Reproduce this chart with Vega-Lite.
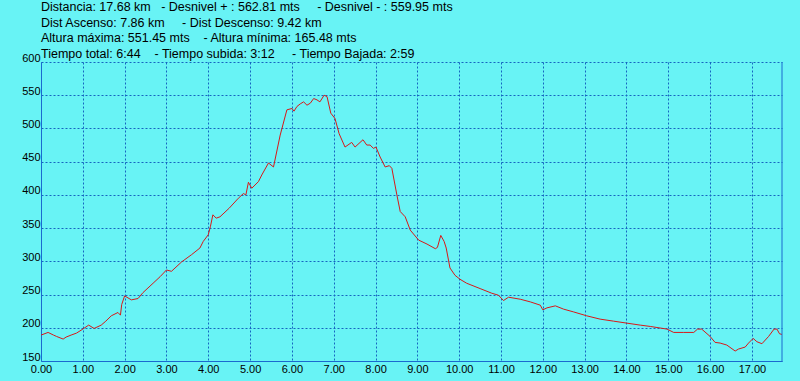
{
  "$schema": "https://vega.github.io/schema/vega-lite/v6.json",
  "width": 741,
  "height": 299,
  "autosize": {"type": "none"},
  "padding": {"left": 41, "top": 62, "right": 18, "bottom": 20},
  "background": "#68F3F5",
  "title": {
    "text": [
      "Distancia: 17.68 km\u00a0\u00a0\u00a0- Desnivel + : 562.81 mts\u00a0\u00a0\u00a0\u00a0\u00a0- Desnivel - : 559.95 mts",
      "Dist Ascenso: 7.86 km\u00a0\u00a0\u00a0\u00a0\u00a0- Dist Descenso: 9.42 km",
      "Altura máxima: 551.45 mts\u00a0\u00a0\u00a0\u00a0- Altura mínima: 165.48 mts",
      "Tiempo total: 6:44\u00a0\u00a0\u00a0\u00a0- Tiempo subida: 3:12\u00a0\u00a0\u00a0\u00a0\u00a0- Tiempo Bajada: 2:59"
    ],
    "anchor": "start",
    "frame": "group",
    "font": "Liberation Sans",
    "fontSize": 12.5,
    "fontWeight": "normal",
    "color": "#000000",
    "lineHeight": 15.5,
    "offset": -8
  },
  "config": {
    "view": {"stroke": null},
    "axis": {
      "grid": true,
      "gridColor": "#1565C0",
      "gridDash": [2, 2],
      "gridOpacity": 1,
      "gridWidth": 1,
      "domainColor": "#1A6ACF",
      "domainWidth": 1,
      "tickSize": 0,
      "labelFont": "Liberation Sans",
      "labelFontSize": 11,
      "labelColor": "#000000",
      "labelFlush": false,
      "labelOverlap": false,
      "labelBound": false,
      "title": null
    }
  },
  "data": {
    "values": [
      {"km": 0.00, "alt": 189}, {"km": 0.17, "alt": 193}, {"km": 0.30, "alt": 189}, {"km": 0.37, "alt": 187},
      {"km": 0.53, "alt": 183}, {"km": 0.60, "alt": 186}, {"km": 0.72, "alt": 189}, {"km": 0.85, "alt": 192},
      {"km": 1.00, "alt": 198}, {"km": 1.14, "alt": 204}, {"km": 1.27, "alt": 199}, {"km": 1.44, "alt": 204},
      {"km": 1.55, "alt": 210}, {"km": 1.68, "alt": 218}, {"km": 1.84, "alt": 223}, {"km": 1.90, "alt": 219},
      {"km": 1.93, "alt": 235}, {"km": 2.00, "alt": 248}, {"km": 2.16, "alt": 242}, {"km": 2.32, "alt": 244},
      {"km": 2.44, "alt": 253}, {"km": 2.68, "alt": 267}, {"km": 2.85, "alt": 277}, {"km": 3.00, "alt": 287},
      {"km": 3.12, "alt": 285}, {"km": 3.36, "alt": 299}, {"km": 3.60, "alt": 310}, {"km": 3.80, "alt": 320},
      {"km": 3.88, "alt": 330}, {"km": 4.00, "alt": 340}, {"km": 4.05, "alt": 352}, {"km": 4.11, "alt": 370},
      {"km": 4.19, "alt": 365}, {"km": 4.28, "alt": 367}, {"km": 4.50, "alt": 380}, {"km": 4.72, "alt": 395},
      {"km": 4.84, "alt": 402}, {"km": 4.90, "alt": 400}, {"km": 4.96, "alt": 419}, {"km": 5.04, "alt": 410},
      {"km": 5.20, "alt": 420}, {"km": 5.28, "alt": 430}, {"km": 5.44, "alt": 448}, {"km": 5.56, "alt": 442},
      {"km": 5.72, "alt": 490}, {"km": 5.88, "alt": 528}, {"km": 6.00, "alt": 530}, {"km": 6.05, "alt": 526},
      {"km": 6.12, "alt": 533}, {"km": 6.20, "alt": 537}, {"km": 6.28, "alt": 540}, {"km": 6.36, "alt": 535},
      {"km": 6.44, "alt": 538}, {"km": 6.52, "alt": 545}, {"km": 6.60, "alt": 543}, {"km": 6.67, "alt": 540},
      {"km": 6.77, "alt": 550}, {"km": 6.84, "alt": 548}, {"km": 6.93, "alt": 523}, {"km": 7.03, "alt": 515},
      {"km": 7.13, "alt": 492}, {"km": 7.27, "alt": 472}, {"km": 7.43, "alt": 479}, {"km": 7.51, "alt": 472},
      {"km": 7.70, "alt": 483}, {"km": 7.79, "alt": 475}, {"km": 7.87, "alt": 475}, {"km": 7.95, "alt": 470},
      {"km": 8.01, "alt": 472}, {"km": 8.11, "alt": 457}, {"km": 8.23, "alt": 442}, {"km": 8.33, "alt": 444},
      {"km": 8.39, "alt": 440}, {"km": 8.51, "alt": 400}, {"km": 8.59, "alt": 375}, {"km": 8.71, "alt": 367},
      {"km": 8.83, "alt": 347}, {"km": 9.03, "alt": 332}, {"km": 9.23, "alt": 326}, {"km": 9.43, "alt": 319},
      {"km": 9.48, "alt": 321}, {"km": 9.56, "alt": 339}, {"km": 9.64, "alt": 330}, {"km": 9.69, "alt": 320},
      {"km": 9.78, "alt": 290}, {"km": 9.90, "alt": 279}, {"km": 10.02, "alt": 273}, {"km": 10.18, "alt": 267},
      {"km": 10.50, "alt": 259}, {"km": 10.78, "alt": 252}, {"km": 10.94, "alt": 249}, {"km": 11.06, "alt": 241},
      {"km": 11.18, "alt": 246}, {"km": 11.46, "alt": 243}, {"km": 11.70, "alt": 239}, {"km": 11.94, "alt": 234},
      {"km": 12.00, "alt": 227}, {"km": 12.10, "alt": 230}, {"km": 12.30, "alt": 233}, {"km": 12.50, "alt": 228},
      {"km": 12.73, "alt": 224}, {"km": 13.05, "alt": 218}, {"km": 13.37, "alt": 213}, {"km": 13.69, "alt": 210},
      {"km": 14.01, "alt": 207}, {"km": 14.33, "alt": 204}, {"km": 14.57, "alt": 202}, {"km": 14.97, "alt": 198},
      {"km": 15.13, "alt": 193}, {"km": 15.37, "alt": 193}, {"km": 15.61, "alt": 193}, {"km": 15.70, "alt": 198},
      {"km": 15.80, "alt": 198}, {"km": 16.00, "alt": 187}, {"km": 16.12, "alt": 178}, {"km": 16.24, "alt": 177},
      {"km": 16.40, "alt": 174}, {"km": 16.60, "alt": 165}, {"km": 16.68, "alt": 168}, {"km": 16.84, "alt": 171},
      {"km": 16.92, "alt": 177}, {"km": 17.03, "alt": 184}, {"km": 17.12, "alt": 179}, {"km": 17.24, "alt": 176},
      {"km": 17.40, "alt": 187}, {"km": 17.53, "alt": 198}, {"km": 17.60, "alt": 198}, {"km": 17.66, "alt": 191},
      {"km": 17.72, "alt": 190}
    ]
  },
  "layer": [
    {
      "mark": {"type": "line", "color": "#D81818", "strokeWidth": 1},
      "encoding": {
        "x": {
          "field": "km",
          "type": "quantitative",
          "scale": {"domain": [0, 17.72], "nice": false, "zero": false},
          "axis": {
            "values": [0, 1, 2, 3, 4, 5, 6, 7, 8, 9, 10, 11, 12, 13, 14, 15, 16, 17],
            "format": ".2f",
            "labelPadding": 2
          }
        },
        "y": {
          "field": "alt",
          "type": "quantitative",
          "scale": {"domain": [150, 600], "nice": false, "zero": false},
          "axis": {
            "values": [150, 200, 250, 300, 350, 400, 450, 500, 550, 600],
            "labelPadding": 1,
            "labelBaseline": "alphabetic",
            "labelOffset": -1
          }
        }
      }
    },
    {
      "data": {"values": [{}]},
      "mark": {"type": "rule", "color": "#1A6ACF", "strokeWidth": 1},
      "encoding": {"x": {"datum": 17.72, "type": "quantitative"}}
    }
  ]
}
